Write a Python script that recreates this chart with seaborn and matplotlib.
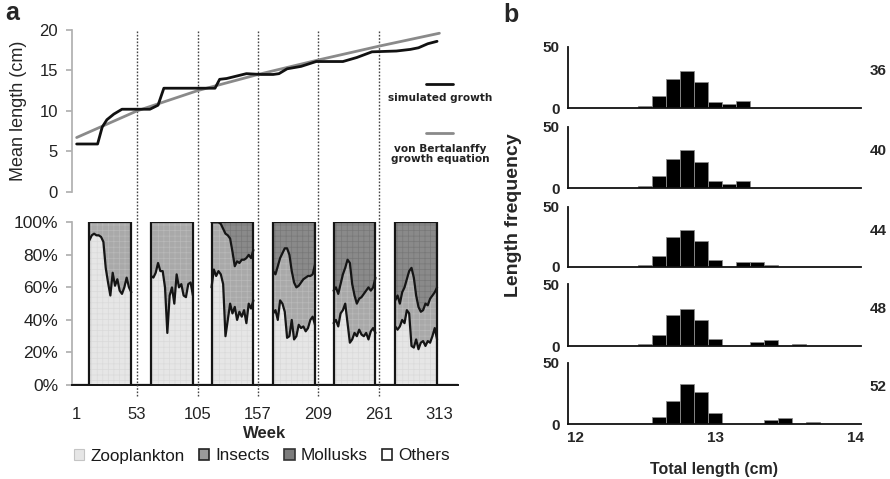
import numpy as np
import pandas as pd
import matplotlib
matplotlib.use("Agg")
import matplotlib.pyplot as plt
from matplotlib.patches import Patch
import seaborn as sns

sns.set_theme(style="white")
plt.rcParams["font.family"] = ["Liberation Sans", "DejaVu Sans"]

# ---------------- data: panel a (growth) ----------------
sim_weeks = [1, 19, 23, 27, 33, 40, 64, 71, 76, 120, 124, 130, 147, 160, 170, 175,
             182, 194, 207, 230, 242, 255, 276, 288, 295, 303, 311]
sim_length = [5.9, 5.9, 8.0, 8.9, 9.6, 10.2, 10.2, 10.7, 12.8, 12.8, 13.9, 14.0, 14.6,
              14.5, 14.5, 14.6, 15.2, 15.5, 16.1, 16.1, 16.6, 17.3, 17.4, 17.6, 17.8,
              18.3, 18.6]
vb_weeks = [1, 53, 105, 157, 209, 261, 313]
vb_length = [6.7, 10.0, 12.5, 14.5, 16.3, 18.0, 19.6]

# ---------------- data: panel a (diet composition, %) ----------------
season_starts = [12, 65, 117, 170, 222, 275]
season_offsets = list(range(0, 37, 2))
zoo_pct = [
    [89, 92, 93, 92, 92, 91, 88, 72, 63, 55, 69, 61, 65, 58, 56, 60, 66, 60, 57],
    [67, 66, 69, 75, 70, 70, 60, 32, 55, 60, 50, 68, 60, 62, 55, 54, 62, 63, 55],
    [60, 71, 67, 70, 68, 62, 30, 40, 50, 44, 48, 40, 45, 42, 46, 38, 50, 47, 52],
    [44, 46, 40, 52, 50, 45, 29, 30, 40, 28, 30, 37, 35, 36, 33, 35, 40, 42, 37],
    [38, 40, 36, 44, 46, 50, 38, 26, 28, 32, 30, 34, 31, 30, 32, 28, 33, 35, 32],
    [36, 34, 36, 40, 38, 46, 44, 24, 23, 28, 22, 26, 27, 24, 27, 26, 30, 35, 28],
]
zoo_insects_pct = [
    [100] * 19,
    [100] * 19,
    [100, 100, 100, 100, 99, 96, 93, 92, 90, 82, 73, 76, 75, 77, 77, 78, 80, 78, 83],
    [70, 68, 73, 78, 81, 84, 84, 80, 70, 63, 60, 61, 63, 65, 66, 67, 67, 68, 74],
    [58, 60, 56, 62, 68, 72, 77, 75, 62, 55, 50, 53, 54, 56, 58, 60, 58, 60, 66],
    [52, 55, 50, 57, 60, 65, 70, 72, 66, 55, 48, 45, 46, 50, 49, 53, 55, 57, 60],
]
week_ticks = [1, 53, 105, 157, 209, 261, 313]
diet_labels = ["Zooplankton", "Insects", "Mollusks", "Others"]

# ---------------- data: panel b (length frequency) ----------------
hist_weeks = ["36", "40", "44", "48", "52"]
hist_lengths = [
    [12.5, 12.6, 12.7, 12.8, 12.9, 13.0, 13.1, 13.2],
    [12.5, 12.6, 12.7, 12.8, 12.9, 13.0, 13.1, 13.2],
    [12.5, 12.6, 12.7, 12.8, 12.9, 13.0, 13.2, 13.3, 13.4],
    [12.5, 12.6, 12.7, 12.8, 12.9, 13.0, 13.3, 13.4, 13.6],
    [12.6, 12.7, 12.8, 12.9, 13.0, 13.4, 13.5, 13.7],
]
hist_counts = [
    [1.5, 10, 24, 30, 21, 5, 3, 6],
    [1.5, 10, 24, 31, 21, 6, 3, 6],
    [2, 9, 25, 31, 22, 6, 4, 4, 1.5],
    [2, 9, 25, 30, 21, 6, 3, 5, 1.5],
    [6, 19, 33, 26, 9, 3, 5, 1.5],
]

# ---------------- figure ----------------
W, H = 890, 479
fig = plt.figure(figsize=(W / 100, H / 100), dpi=100)
fig.patch.set_facecolor("white")


def fx(px):
    return px / W


def fy(py):
    return 1 - py / H


ax_top = fig.add_axes([fx(72), fy(191.7), fx(458 - 72), (191.7 - 30) / H])
ax_bot = fig.add_axes([fx(72), fy(385), fx(458 - 72), (385 - 222.3) / H])
ax_top.set_zorder(2)
ax_top.patch.set_visible(False)

XMIN, XMAX = -3, 329
GRAY_AX = "#b0b0b0"

# ---- growth curves
df_sim = pd.DataFrame({"week": sim_weeks, "length": sim_length})
df_vb = pd.DataFrame({"week": vb_weeks, "length": vb_length})
sns.lineplot(data=df_vb, x="week", y="length", ax=ax_top, color="#8a8a8a", lw=2.0)
sns.lineplot(data=df_sim, x="week", y="length", ax=ax_top, color="#111111", lw=2.0)
ax_top.set_xlim(XMIN, XMAX)
ax_top.set_ylim(0, 20)
ax_top.set_yticks([0, 5, 10, 15, 20])
ax_top.set_xticks([])
ax_top.set_xlabel("")
ax_top.set_ylabel("Mean length (cm)", fontsize=13, labelpad=9)
for s in ["top", "right", "bottom"]:
    ax_top.spines[s].set_visible(False)
ax_top.spines["left"].set_color(GRAY_AX)
ax_top.tick_params(axis="y", length=4, color=GRAY_AX, labelsize=12, pad=6,
                   left=True, direction="out", labelcolor="#222222")

# in-axes legend
kw = dict(transform=ax_top.transAxes, ha="center", va="center", fontsize=7.6,
          fontweight="bold", color="#222222", clip_on=False, family="DejaVu Sans")
ax_top.plot([0.917, 0.987], [0.665, 0.665], color="#111111", lw=2,
            transform=ax_top.transAxes, clip_on=False)
ax_top.text(0.955, 0.577, "simulated growth", **kw)
ax_top.plot([0.917, 0.987], [0.36, 0.36], color="#8a8a8a", lw=2,
            transform=ax_top.transAxes, clip_on=False)
ax_top.text(0.955, 0.235, "von Bertalanffy\ngrowth equation", linespacing=1.0, **kw)

# ---- diet composition stacked area
c_zoo, c_ins, c_mol = "#e6e6e6", "#a9a9a9", "#8a8a8a"
xs, z, u, t = [XMIN], [0], [0], [0]
for s0, zz, uu in zip(season_starts, zoo_pct, zoo_insects_pct):
    wk = [s0 + o for o in season_offsets]
    xs += [s0] + wk + [wk[-1]]
    z += [0] + zz + [0]
    u += [0] + uu + [0]
    t += [0] + [100] * len(wk) + [0]
xs += [XMAX]
z += [0]
u += [0]
t += [0]
xs, z, u, t = map(np.array, (xs, z, u, t))

plt.rcParams["hatch.linewidth"] = 0.5
ax_bot.fill_between(xs, 0, z, color=c_zoo, edgecolor="#dadada", hatch="+++", lw=0)
ax_bot.fill_between(xs, z, u, color=c_ins, edgecolor="#b9b9b9", hatch="+++", lw=0)
ax_bot.fill_between(xs, u, t, color=c_mol, edgecolor="#787878", hatch="+++", lw=0)
ax_bot.plot(xs, t, color="#151515", lw=1.6)
for s0, zz, uu in zip(season_starts, zoo_pct, zoo_insects_pct):
    wk = [s0 + o for o in season_offsets]
    ax_bot.plot(wk, zz, color="#151515", lw=1.6)
    if min(uu) < 100:
        ax_bot.plot(wk, uu, color="#151515", lw=1.6)

ax_bot.set_xlim(XMIN, XMAX)
ax_bot.set_ylim(0, 100)
ax_bot.set_yticks([0, 20, 40, 60, 80, 100])
ax_bot.set_yticklabels([f"{v}%" for v in [0, 20, 40, 60, 80, 100]])
ax_bot.set_xticks(week_ticks)
ax_bot.set_xticklabels([str(w) for w in week_ticks])
for s in ["top", "right"]:
    ax_bot.spines[s].set_visible(False)
ax_bot.spines["left"].set_color(GRAY_AX)
ax_bot.spines["bottom"].set_color("#151515")
ax_bot.spines["bottom"].set_linewidth(1.4)
ax_bot.tick_params(axis="y", length=4, color=GRAY_AX, left=True, direction="out",
                   labelsize=12.5, pad=6, labelcolor="#222222")
ax_bot.tick_params(axis="x", length=0, labelsize=12, pad=16, labelcolor="#222222")
ax_bot.set_xlabel("Week", fontsize=12, fontweight="bold", labelpad=3)

# dotted separators across both panels
for w in week_ticks[1:-1]:
    ax_bot.axvline(w, ymin=-0.07, ymax=(385 - 31) / (385 - 222.3), color="#444444",
                   lw=1.0, ls=(0, (1.2, 1.2)), clip_on=False, zorder=5)

handles = [
    Patch(facecolor=c_zoo, edgecolor="#c4c4c4", lw=0.8),
    Patch(facecolor="#9a9a9a", edgecolor="#222222", lw=1.2),
    Patch(facecolor="#7c7c7c", edgecolor="#333333", lw=1.2),
    Patch(facecolor="white", edgecolor="#222222", lw=1.2),
]
fig.legend(handles, diet_labels, loc="center", bbox_to_anchor=(fx(262), fy(456)),
           ncol=4, frameon=False, fontsize=12.3, handlelength=0.6, handleheight=0.6,
           handletextpad=0.35, columnspacing=0.85, borderaxespad=0, labelcolor="#1a1a1a")

fig.text(fx(12), fy(13), "a", fontsize=18, fontweight="bold", ha="center", va="center")

# ---------------- panel b ----------------
tops = [47, 127, 207, 284, 363]
bots = [108, 188, 267, 346, 424]
for i, (lab, lens, cnts) in enumerate(zip(hist_weeks, hist_lengths, hist_counts)):
    ax = fig.add_axes([fx(568), fy(bots[i]), fx(861 - 568), (bots[i] - tops[i]) / H])
    ax.patch.set_visible(False)
    dfh = pd.DataFrame({"length": lens, "count": cnts})
    sns.histplot(data=dfh, x="length", weights="count", binwidth=0.1,
                 binrange=(12.45, 13.75), ax=ax,
                 color="black", edgecolor="#8c8c8c", linewidth=0.6, alpha=1)
    ax.set_xlim(11.95, 14.04)
    ax.set_ylim(0, 50)
    ax.set_yticks([0, 50])
    ax.set_yticklabels(["0", "50"], fontweight="bold")
    ax.set_ylabel("")
    ax.set_xlabel("")
    for s in ["top", "right"]:
        ax.spines[s].set_visible(False)
    for s in ["left", "bottom"]:
        ax.spines[s].set_color("#111111")
        ax.spines[s].set_linewidth(1.3)
    ax.tick_params(axis="y", length=0, labelsize=11, pad=6)
    ax.text(1.058, 0.6, lab, transform=ax.transAxes, ha="center", va="center",
            fontsize=11, fontweight="bold")
    if i < 4:
        ax.set_xticks([])
    else:
        ax.set_xticks([12, 13, 14])
        ax.set_xticklabels(["12", "13", "14"], fontweight="bold")
        ax.tick_params(axis="x", length=0, labelsize=11, pad=5)
        ax.set_xlabel("Total length (cm)", fontsize=11.5, fontweight="bold", labelpad=12)

fig.text(fx(514), fy(215), "Length frequency", rotation=90, fontsize=14,
         fontweight="bold", ha="center", va="center")
fig.text(fx(511), fy(15), "b", fontsize=18, fontweight="bold", ha="center", va="center")

fig.savefig("out.png", dpi=100, facecolor="white")
